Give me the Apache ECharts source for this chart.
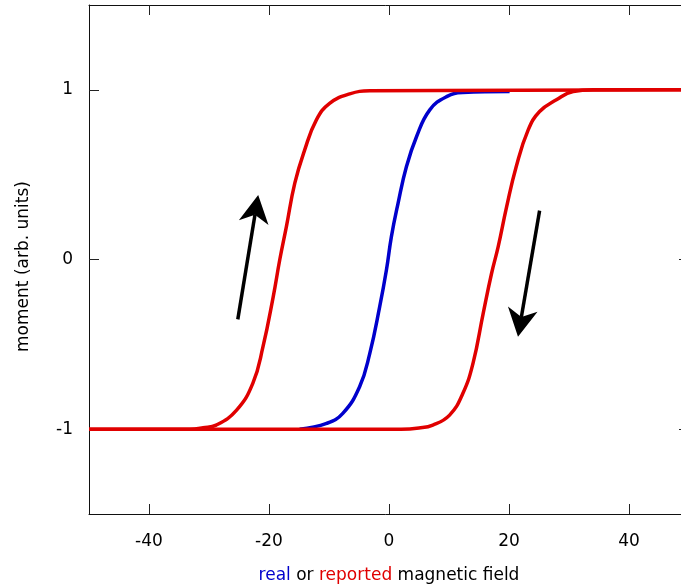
<!DOCTYPE html>
<html><head><meta charset="utf-8">
<script src="https://cdn.jsdelivr.net/npm/echarts@6/dist/echarts.min.js"></script>
<style>html,body{margin:0;padding:0;background:#fff}#c{width:681px;height:586px}</style>
</head><body><div id="c"></div>
<script>
// tick values
const xTicks = [-40, -20, 0, 20, 40];
const yTicks = [-1, 0, 1];

// real (blue) curve
const realX = [-14.9, -10.4, -7.7, -4.9, -3.2, -1.55, -0.43, 0.4, 1.5, 2.9, 4.6, 6.8, 9.6, 12.3, 20.1];
const realY = [-1, -0.966, -0.907, -0.75, -0.553, -0.278, -0.062, 0.135, 0.33, 0.547, 0.725, 0.882, 0.96, 0.984, 0.99];

// reported (red) left branch
const leftX = [-50, -33.2, -31, -28.8, -25.4, -22.7, -21.0, -19.3, -18.2, -17.1, -15.7, -14.05, -12.1, -9.9, -6.55, -3.2, 50];
const leftY = [-1, -1, -0.992, -0.976, -0.888, -0.73, -0.514, -0.22, 0, 0.194, 0.45, 0.646, 0.823, 0.92, 0.976, 0.994, 1];

// reported (red) right branch
const rightX = [-50, 2, 5, 7.3, 10.1, 12.3, 14.0, 15.7, 17.1, 18.2, 19.6, 21.2, 23.2, 25.1, 27.9, 30.7, 34, 50];
const rightY = [-1, -1, -0.993, -0.976, -0.917, -0.79, -0.612, -0.317, -0.081, 0.076, 0.31, 0.547, 0.764, 0.872, 0.941, 0.99, 1, 1];

// arrows: tail x, tail y, tip x, tip y
const arrowUp = [-25.2, -0.353, -21.8, 0.38];
const arrowDown = [25.1, 0.288, 21.5, -0.455];

const zip = (xs, ys) => xs.map((x, i) => [x, ys[i]]);
const RED = '#e00000', BLUE = '#0000cc';
const FONT = 'DejaVu Sans';

function renderArrow(params, api) {
  const p1 = api.coord([api.value(0), api.value(1)]);
  const p2 = api.coord([api.value(2), api.value(3)]);
  const dx = p2[0] - p1[0], dy = p2[1] - p1[1];
  const len = Math.hypot(dx, dy);
  const ux = dx / len, uy = dy / len, nx = -uy, ny = ux;
  const L = 28, W = 15, N = 20;
  const c1 = [p2[0] - L * ux + W * nx, p2[1] - L * uy + W * ny];
  const c2 = [p2[0] - L * ux - W * nx, p2[1] - L * uy - W * ny];
  const nb = [p2[0] - N * ux, p2[1] - N * uy];
  return {type: 'group', children: [
    {type: 'line', shape: {x1: p1[0], y1: p1[1], x2: nb[0], y2: nb[1]},
     style: {stroke: '#000', lineWidth: 3.5}},
    {type: 'polygon', shape: {points: [p2, c1, nb, c2]}, style: {fill: '#000'}}
  ]};
}

const chart = echarts.init(document.getElementById('c'), null, {renderer: 'canvas'});
const mirrorTick = (vals) => ({show: true, inside: true, length: 10, customValues: vals, lineStyle: {color: '#222', width: 1}});
chart.setOption({
  animation: false,
  backgroundColor: '#fff',
  grid: {left: 89, right: -8, top: 5, bottom: 72, containLabel: false, outerBoundsMode: 'none'},
  xAxis: [{
    type: 'value', min: -50, max: 50, position: 'bottom',
    axisLine: {show: true, onZero: false, lineStyle: {color: '#111', width: 1}},
    axisTick: mirrorTick(xTicks),
    axisLabel: {show: true, customValues: xTicks, margin: 19, color: '#000', fontSize: 17, fontFamily: FONT},
    splitLine: {show: false},
    name: '{b|real} or {r|reported} magnetic field',
    nameLocation: 'middle', nameGap: 53,
    nameTextStyle: {color: '#000', fontSize: 17, fontFamily: FONT,
      rich: {b: {color: BLUE, fontSize: 17, fontFamily: FONT}, r: {color: RED, fontSize: 17, fontFamily: FONT}}}
  }, {
    type: 'value', min: -50, max: 50, position: 'top',
    axisLine: {show: true, onZero: false, lineStyle: {color: '#111', width: 1}},
    axisTick: mirrorTick(xTicks),
    axisLabel: {show: false},
    splitLine: {show: false}
  }],
  yAxis: [{
    type: 'value', min: -1.5, max: 1.5, position: 'left',
    axisLine: {show: true, onZero: false, lineStyle: {color: '#111', width: 1}},
    axisTick: mirrorTick(yTicks),
    axisLabel: {show: true, customValues: yTicks, margin: 16, color: '#000', fontSize: 17, fontFamily: FONT},
    splitLine: {show: false},
    name: 'moment (arb. units)', nameLocation: 'middle', nameGap: 57, nameRotate: 90,
    nameTextStyle: {color: '#000', fontSize: 17, fontFamily: FONT, padding: [0, 14, 0, 0]}
  }, {
    type: 'value', min: -1.5, max: 1.5, position: 'right',
    axisLine: {show: true, onZero: false, lineStyle: {color: '#111', width: 1}},
    axisTick: mirrorTick(yTicks),
    axisLabel: {show: false},
    splitLine: {show: false}
  }],
  series: [
    {type: 'line', data: zip(realX, realY), showSymbol: false, smooth: 0.45,
     lineStyle: {color: BLUE, width: 3.5}, z: 2},
    {type: 'line', data: zip(leftX, leftY), showSymbol: false, smooth: 0.45,
     lineStyle: {color: RED, width: 3.5}, z: 3},
    {type: 'line', data: zip(rightX, rightY), showSymbol: false, smooth: 0.45,
     lineStyle: {color: RED, width: 3.5}, z: 3},
    {type: 'custom', renderItem: renderArrow, z: 4, clip: false,
     encode: {x: [0, 2], y: [1, 3]},
     data: [arrowUp, arrowDown]}
  ]
});
</script></body></html>
